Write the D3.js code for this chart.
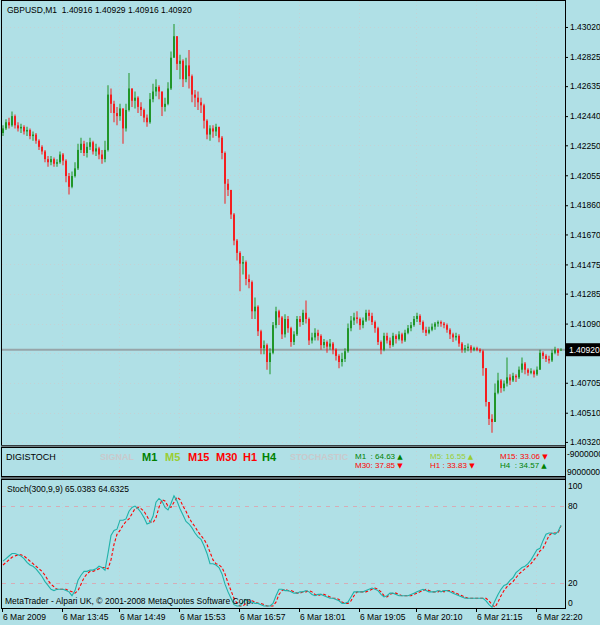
<!DOCTYPE html>
<html>
<head>
<meta charset="utf-8">
<script src="https://cdn.jsdelivr.net/npm/d3@7"></script>
<style>
  html, body { margin: 0; padding: 0; background: #b0e0e6; }
  svg { display: block; font-family: "Liberation Sans", Arial, sans-serif; }
  .pre { white-space: pre; }
</style>
</head>
<body>
<div id="chart"></div>
<script>

// Chart values
let symbol = "GBPUSD,M1";
let lastQuote = [1.40916, 1.40929, 1.40916, 1.40920];   // open, high, low, close

// candles: [open, high, low, close]
let candles = [
  [1.4233,1.4238,1.4231,1.4236],[1.4236,1.4242,1.4235,1.4240],[1.4240,1.4243,1.4236,1.4238],[1.4238,1.4247,1.4237,1.4244],
  [1.4244,1.4245,1.4236,1.4238],[1.4238,1.4240,1.4234,1.4236],[1.4236,1.4239,1.4233,1.4237],[1.4237,1.4238,1.4232,1.4234],
  [1.4234,1.4237,1.4231,1.4235],[1.4235,1.4236,1.4229,1.4231],[1.4231,1.4234,1.4228,1.4232],[1.4232,1.4233,1.4226,1.4228],
  [1.4228,1.4229,1.4222,1.4224],[1.4224,1.4225,1.4219,1.4221],[1.4221,1.4222,1.4214,1.4216],[1.4216,1.4218,1.4211,1.4214],
  [1.4214,1.4218,1.4212,1.4216],[1.4216,1.4217,1.4211,1.4213],[1.4213,1.4216,1.4211,1.4214],[1.4214,1.4221,1.4213,1.4219],
  [1.4219,1.4220,1.4212,1.4215],[1.4215,1.4216,1.4201,1.4205],[1.4205,1.4207,1.4193,1.4198],[1.4198,1.4208,1.4197,1.4205],
  [1.4205,1.4214,1.4204,1.4210],[1.4210,1.4226,1.4209,1.4222],[1.4222,1.4230,1.4220,1.4226],[1.4226,1.4228,1.4218,1.4220],
  [1.4220,1.4227,1.4217,1.4224],[1.4224,1.4230,1.4222,1.4227],[1.4227,1.4228,1.4219,1.4221],[1.4221,1.4226,1.4218,1.4223],
  [1.4223,1.4224,1.4216,1.4219],[1.4219,1.4222,1.4213,1.4216],[1.4216,1.4228,1.4214,1.4222],[1.4222,1.4264,1.4221,1.4258],
  [1.4258,1.4262,1.4246,1.4252],[1.4252,1.4254,1.4240,1.4246],[1.4246,1.4250,1.4238,1.4244],[1.4244,1.4252,1.4241,1.4249],
  [1.4249,1.4249,1.4226,1.4236],[1.4236,1.4252,1.4234,1.4248],[1.4248,1.4272,1.4247,1.4262],[1.4262,1.4262,1.4250,1.4254],
  [1.4254,1.4260,1.4249,1.4256],[1.4256,1.4257,1.4246,1.4250],[1.4250,1.4253,1.4244,1.4248],[1.4248,1.4249,1.4240,1.4243],
  [1.4243,1.4245,1.4237,1.4240],[1.4240,1.4259,1.4239,1.4255],[1.4255,1.4265,1.4253,1.4260],[1.4260,1.4268,1.4257,1.4263],
  [1.4263,1.4264,1.4255,1.4260],[1.4260,1.4260,1.4244,1.4250],[1.4250,1.4256,1.4247,1.4252],[1.4252,1.4266,1.4251,1.4262],
  [1.4262,1.4286,1.4261,1.4282],[1.4282,1.4304,1.4282,1.4296],[1.4296,1.4296,1.4274,1.4278],[1.4278,1.4284,1.4268,1.4280],
  [1.4280,1.4281,1.4263,1.4268],[1.4268,1.4282,1.4266,1.4277],[1.4277,1.4287,1.4262,1.4270],[1.4270,1.4271,1.4253,1.4258],
  [1.4258,1.4261,1.4250,1.4256],[1.4256,1.4260,1.4248,1.4253],[1.4253,1.4256,1.4246,1.4251],[1.4251,1.4252,1.4236,1.4241],
  [1.4241,1.4242,1.4229,1.4232],[1.4232,1.4238,1.4228,1.4236],[1.4236,1.4238,1.4230,1.4234],[1.4234,1.4239,1.4231,1.4237],
  [1.4237,1.4237,1.4227,1.4230],[1.4230,1.4231,1.4216,1.4220],[1.4220,1.4221,1.4187,1.4200],[1.4200,1.4203,1.4192,1.4196],
  [1.4196,1.4196,1.4177,1.4180],[1.4180,1.4181,1.4160,1.4163],[1.4163,1.4164,1.4150,1.4155],[1.4155,1.4156,1.4130,1.4148],
  [1.4148,1.4153,1.4141,1.4149],[1.4149,1.4150,1.4134,1.4138],[1.4138,1.4141,1.4132,1.4136],[1.4136,1.4137,1.4112,1.4117],
  [1.4117,1.4126,1.4112,1.4120],[1.4120,1.4121,1.4101,1.4104],[1.4104,1.4105,1.4089,1.4093],[1.4093,1.4098,1.4089,1.4095],
  [1.4095,1.4096,1.4079,1.4084],[1.4084,1.4093,1.4076,1.4090],[1.4090,1.4110,1.4089,1.4108],[1.4108,1.4120,1.4106,1.4117],
  [1.4117,1.4118,1.4108,1.4113],[1.4113,1.4114,1.4099,1.4102],[1.4102,1.4115,1.4100,1.4112],[1.4112,1.4114,1.4103,1.4106],
  [1.4106,1.4107,1.4094,1.4097],[1.4097,1.4104,1.4095,1.4102],[1.4102,1.4114,1.4101,1.4112],[1.4112,1.4114,1.4107,1.4110],
  [1.4110,1.4118,1.4108,1.4116],[1.4116,1.4124,1.4109,1.4112],[1.4112,1.4113,1.4095,1.4098],[1.4098,1.4103,1.4096,1.4100],
  [1.4100,1.4106,1.4098,1.4103],[1.4103,1.4105,1.4098,1.4101],[1.4101,1.4102,1.4092,1.4095],[1.4095,1.4099,1.4093,1.4097],
  [1.4097,1.4098,1.4090,1.4094],[1.4094,1.4099,1.4092,1.4096],[1.4096,1.4097,1.4089,1.4092],[1.4092,1.4093,1.4085,1.4088],
  [1.4088,1.4089,1.4080,1.4084],[1.4084,1.4090,1.4081,1.4086],[1.4086,1.4093,1.4084,1.4091],[1.4091,1.4109,1.4090,1.4106],
  [1.4106,1.4114,1.4104,1.4111],[1.4111,1.4116,1.4108,1.4113],[1.4113,1.4117,1.4109,1.4112],[1.4112,1.4113,1.4105,1.4108],
  [1.4108,1.4113,1.4106,1.4111],[1.4111,1.4118,1.4110,1.4116],[1.4116,1.4118,1.4111,1.4114],[1.4114,1.4116,1.4108,1.4110],
  [1.4110,1.4111,1.4103,1.4106],[1.4106,1.4107,1.4095,1.4097],[1.4097,1.4098,1.4089,1.4092],[1.4092,1.4103,1.4091,1.4101],
  [1.4101,1.4103,1.4096,1.4098],[1.4098,1.4100,1.4093,1.4095],[1.4095,1.4103,1.4094,1.4101],[1.4101,1.4102,1.4096,1.4099],
  [1.4099,1.4104,1.4098,1.4102],[1.4102,1.4103,1.4096,1.4098],[1.4098,1.4105,1.4097,1.4103],[1.4103,1.4108,1.4102,1.4106],
  [1.4106,1.4110,1.4104,1.4108],[1.4108,1.4114,1.4107,1.4112],[1.4112,1.4116,1.4110,1.4114],[1.4114,1.4115,1.4108,1.4110],
  [1.4110,1.4111,1.4103,1.4105],[1.4105,1.4107,1.4101,1.4103],[1.4103,1.4107,1.4102,1.4105],[1.4105,1.4109,1.4104,1.4107],
  [1.4107,1.4110,1.4105,1.4109],[1.4109,1.4111,1.4107,1.4110],[1.4110,1.4111,1.4107,1.4109],[1.4109,1.4110,1.4106,1.4108],
  [1.4108,1.4109,1.4103,1.4105],[1.4105,1.4106,1.4099,1.4102],[1.4102,1.4103,1.4097,1.4100],[1.4100,1.4103,1.4098,1.4101],
  [1.4101,1.4102,1.4094,1.4096],[1.4096,1.4097,1.4090,1.4092],[1.4092,1.4095,1.4090,1.4093],[1.4093,1.4096,1.4091,1.4094],
  [1.4094,1.4095,1.4090,1.4092],[1.4092,1.4094,1.4091,1.4093],[1.4093,1.4094,1.4091,1.4092],[1.4092,1.4093,1.4090,1.4091],
  [1.4091,1.4092,1.4075,1.4080],[1.4080,1.4080,1.4055,1.4058],[1.4058,1.4058,1.4043,1.4047],[1.4047,1.4050,1.4038,1.4045],
  [1.4045,1.4070,1.4045,1.4064],[1.4064,1.4077,1.4063,1.4072],[1.4072,1.4073,1.4064,1.4067],[1.4067,1.4072,1.4065,1.4070],
  [1.4070,1.4087,1.4068,1.4074],[1.4074,1.4076,1.4069,1.4072],[1.4072,1.4077,1.4071,1.4075],[1.4075,1.4076,1.4071,1.4074],
  [1.4074,1.4081,1.4073,1.4079],[1.4079,1.4087,1.4077,1.4083],[1.4083,1.4084,1.4076,1.4079],[1.4079,1.4080,1.4075,1.4077],
  [1.4077,1.4080,1.4076,1.4078],[1.4078,1.4079,1.4074,1.4076],[1.4076,1.4081,1.4075,1.4079],[1.4079,1.4092,1.4079,1.4090],
  [1.4090,1.4091,1.4086,1.4088],[1.4088,1.4089,1.4084,1.4086],[1.4086,1.4088,1.4083,1.4085],[1.4085,1.4092,1.4084,1.4090],
  [1.4090,1.4094,1.4089,1.4092],[1.4092,1.4093,1.4088,1.4090],[1.40916,1.40929,1.40916,1.40920]
];

let priceTicks = [1.43020, 1.42825, 1.42635, 1.42440, 1.42250, 1.42055, 1.41860, 1.41670,
                  1.41475, 1.41285, 1.41090, 1.40900, 1.40705, 1.40510, 1.40320];
let priceDomain = [1.40300, 1.43189];

// time labels and the bar each one sits on
let timeLabels = ["6 Mar 2009", "6 Mar 13:45", "6 Mar 14:49", "6 Mar 15:53", "6 Mar 16:57",
                  "6 Mar 18:01", "6 Mar 19:05", "6 Mar 20:10", "6 Mar 21:15", "6 Mar 22:20"];
let timeBars = [0, 20, 39, 59, 79, 99, 119, 138, 158, 178];

// Stochastic(300,9,9), one value per bar
let stochMain = [
  37,39,41,43,43,42,41,39,36,34, 33,31,28,25,21,18,15,14,15,15,
  15,14,13,10,14,22,26,29,29,30, 30,31,33,32,30,43,57,61,62,69,
  69,70,76,79,80,78,75,71,66,67, 72,83,86,84,79,77,82,88,84,78,
  73,68,66,63,59,56,54,49,43,35, 35,34,32,27,19,13,8,3,2,2,
  5,7,5,5,4,4,3,2,2,2, 4,10,15,15,14,14,13,12,12,13,
  13,14,13,11,10,11,11,10,9,8, 8,7,6,4,4,5,9,13,13,13,
  13,14,15,16,15,14,11,9,10,12, 12,11,10,10,10,10,11,12,13,14,
  15,14,13,13,13,14,13,14,14,13, 12,11,10,9,8,8,8,8,8,8,
  8,6,3,1,6,11,15,18,19,22, 24,28,30,32,33,35,38,42,46,47,
  53,58,59,59,58,60,65.0383
];
let stochSignal = [
  34,36,38,40,41,42,42,41,39,37, 35,33,31,29,26,22,19,17,15,15,
  15,15,14,13,12,14,19,24,27,29, 29,30,31,32,32,31,38,50,58,61,
  65,68,70,74,78,79,78,76,72,68, 67,71,79,85,84,80,79,83,87,85,
  80,76,71,67,64,60,57,54,50,44, 38,35,34,32,27,20,14,8,4,2,
  2,4,6,6,5,4,4,3,2,2, 2,5,11,14,15,14,14,13,12,12,
  13,13,14,13,11,10,11,11,10,9, 8,8,7,5,4,4,6,10,13,13,
  13,13,14,15,16,15,13,10,9,11, 12,12,11,10,10,10,10,11,12,13,
  14,15,14,13,13,13,14,13,14,14, 13,12,11,10,9,8,8,8,8,8,
  8,8,6,3,1,5,10,14,17,19, 21,24,27,29,31,33,35,38,41,45,
  47,52,57,59,59,59,64.6325
];
let stochLevels = [20, 80];
let stochTicks = [100, 80, 20, 0];

// DIGISTOCH panel
let tfNames = ["M1", "M5", "M15", "M30", "H1", "H4"];
let tfValues = [64.63, 16.55, 33.06, 37.85, 33.83, 34.57];
let tfUp = [true, true, false, false, false, true];
let digiScale = ["-9000000", "9000000"];

// ---------------- layout ----------------
let svgWidth = 600, svgHeight = 625;
let plotLeft = 2, plotRight = 565;
let mainTop = 1, mainBottom = 445;
let digiTop = 447, digiBottom = 476;
let stochTop = 479, stochBottom = 608;

let bg = '#b0e0e6';
let bullColor = '#0b8a0b', bearColor = '#ff0000';
let tfColors = ['#008000', '#9acd32', '#ff0000', '#ff0000', '#ff0000', '#008000'];
let fnt = 8.5;

let svg = d3.select('#chart')
            .append('svg')
            .attr('width', svgWidth)
            .attr('height', svgHeight);

svg.append('rect').attr('width', svgWidth).attr('height', svgHeight).attr('fill', bg);

let defs = svg.append('defs');
defs.append('clipPath').attr('id', 'mainClip')
    .append('rect').attr('x', plotLeft).attr('y', mainTop)
    .attr('width', plotRight - plotLeft).attr('height', mainBottom - mainTop);
defs.append('clipPath').attr('id', 'stochClip')
    .append('rect').attr('x', plotLeft).attr('y', stochTop)
    .attr('width', plotRight - plotLeft).attr('height', stochBottom - stochTop);

// Scales
let xScale = d3.scaleBand()
               .domain(d3.range(candles.length))
               .range([plotLeft, plotLeft + 3 * candles.length]);
let yScale = d3.scaleLinear().domain(priceDomain).range([mainBottom, mainTop]);
let sScale = d3.scaleLinear().domain([0, 100]).range([stochBottom + 0.5, stochTop + 1.5]);

// dotted grid
let gridGrp = svg.append('g').attr('stroke', '#c3d2d5').attr('stroke-dasharray', '1,3');
gridGrp.selectAll('line.hg').data(priceTicks).enter().append('line')
    .attr('x1', plotLeft).attr('x2', plotRight)
    .attr('y1', d => Math.round(yScale(d)) + 0.5).attr('y2', d => Math.round(yScale(d)) + 0.5);
[[mainTop, mainBottom], [digiTop, digiBottom], [stochTop, stochBottom]].forEach(p => {
    gridGrp.selectAll(null).data(timeBars.slice(1)).enter().append('line')
        .attr('x1', d => xScale(d) + 0.5).attr('x2', d => xScale(d) + 0.5)
        .attr('y1', p[0]).attr('y2', p[1]);
});

// current price line
let lastY = yScale(lastQuote[3]);
svg.append('line')
    .attr('x1', plotLeft).attr('x2', plotRight)
    .attr('y1', lastY).attr('y2', lastY)
    .attr('stroke', '#97a5a9').attr('stroke-width', 2);

// candles: thin 1-minute bars, wick plus a narrow body
let candleGrp = svg.append('g').attr('clip-path', 'url(#mainClip)');
candleGrp.selectAll('line').data(candles).enter().append('line')
    .attr('x1', (d, i) => xScale(i) + 1).attr('x2', (d, i) => xScale(i) + 1)
    .attr('y1', d => yScale(d[1])).attr('y2', d => yScale(d[2]))
    .attr('stroke', d => d[3] >= d[0] ? bullColor : bearColor)
    .attr('stroke-opacity', 0.55)
    .attr('stroke-width', 1.6);
candleGrp.selectAll('rect').data(candles).enter().append('rect')
    .attr('x', (d, i) => xScale(i) + 0.25).attr('width', 1.5)
    .attr('y', d => yScale(Math.max(d[0], d[3])))
    .attr('height', d => Math.max(1, Math.abs(yScale(d[0]) - yScale(d[3]))))
    .attr('fill', d => d[3] >= d[0] ? bullColor : bearColor);

// price axis
let yAxis = d3.axisRight(yScale)
              .tickValues(priceTicks)
              .tickFormat(d3.format('.5f'))
              .tickSizeInner(3).tickSizeOuter(0).tickPadding(2);
let yAxisGrp = svg.append('g')
    .attr('transform', `translate(${plotRight}, 0)`)
    .call(yAxis);
yAxisGrp.attr('font-size', fnt).attr('font-family', null).attr('color', '#000');
yAxisGrp.select('.domain').remove();

// last price box
svg.append('rect').attr('x', plotRight + 1).attr('y', lastY - 6.5)
    .attr('width', 34).attr('height', 13).attr('fill', '#000');
svg.append('text').attr('x', plotRight + 4).attr('y', lastY + 3)
    .attr('font-size', fnt).attr('fill', '#fff').text(lastQuote[3].toFixed(5));

// title
svg.append('text').attr('class', 'pre').attr('x', 7).attr('y', 13).attr('font-size', fnt)
    .text(symbol + '  ' + lastQuote.map(v => v.toFixed(5)).join(' '));

// ---------------- DIGISTOCH panel ----------------
svg.append('text').attr('x', 6).attr('y', 460).attr('font-size', 9).text('DIGISTOCH');
svg.append('text').attr('x', 100).attr('y', 460).attr('font-size', 9)
    .attr('font-weight', 'bold').attr('fill', '#c9c9cc').text('SIGNAL');
svg.append('text').attr('x', 290).attr('y', 460).attr('font-size', 9)
    .attr('font-weight', 'bold').attr('fill', '#c9c9cc').text('STOCHASTIC');

let tfLabelX = [142, 165, 188, 216, 243, 262];
svg.selectAll('text.tf').data(tfNames).enter().append('text')
    .attr('x', (d, i) => tfLabelX[i]).attr('y', 461)
    .attr('font-size', 11).attr('font-weight', 'bold')
    .attr('fill', (d, i) => tfColors[i]).text(d => d);

let tfPad = ['  ', '', '', '', ' ', '  '];
let tfColX = [355, 430, 500], tfRowY = [458.5, 467.5];
let tfVal = svg.selectAll('text.tfv').data(tfNames).enter().append('text')
    .attr('class', 'pre')
    .attr('x', (d, i) => tfColX[i % 3]).attr('y', (d, i) => tfRowY[Math.floor(i / 3)])
    .attr('font-size', 8).attr('fill', (d, i) => tfColors[i]);
tfVal.append('tspan').text((d, i) => `${d}${tfPad[i]}: ${tfValues[i].toFixed(2)} `);
tfVal.append('tspan').attr('font-size', 7).attr('font-family', 'DejaVu Sans')
    .text((d, i) => tfUp[i] ? '\u25B2' : '\u25BC');

svg.selectAll('text.ds').data(digiScale).enter().append('text')
    .attr('x', plotRight + 2).attr('y', (d, i) => i === 0 ? 457 : 475)
    .attr('font-size', fnt).text(d => d);

// ---------------- Stochastic panel ----------------
let stochGrp = svg.append('g').attr('clip-path', 'url(#stochClip)');
stochGrp.selectAll('line.lvl').data(stochLevels).enter().append('line')
    .attr('x1', plotLeft).attr('x2', plotRight)
    .attr('y1', d => Math.round(sScale(d)) + 0.5).attr('y2', d => Math.round(sScale(d)) + 0.5)
    .attr('stroke', '#d6acb6').attr('stroke-dasharray', '4,5');

let stochLine = d3.line().x((d, i) => xScale(i) + 1).y(d => sScale(d));
stochGrp.append('path').datum(stochSignal)
    .attr('d', stochLine).attr('fill', 'none')
    .attr('stroke', '#ff0000').attr('stroke-width', 1.1).attr('stroke-dasharray', '3,2');
stochGrp.append('path').datum(stochMain)
    .attr('d', stochLine).attr('fill', 'none')
    .attr('stroke', '#20b2aa').attr('stroke-width', 1.1);

svg.append('text').attr('x', 7).attr('y', 491.5).attr('font-size', fnt)
    .text(`Stoch(300,9,9) ${stochMain[stochMain.length - 1].toFixed(4)} ${stochSignal[stochSignal.length - 1].toFixed(4)}`);
svg.append('text').attr('x', 5).attr('y', 604).attr('font-size', fnt)
    .text('MetaTrader - Alpari UK, \u00A9 2001-2008 MetaQuotes Software Corp.');

svg.selectAll('text.st').data(stochTicks).enter().append('text')
    .attr('x', plotRight + 3)
    .attr('y', d => d === 100 ? sScale(d) + 8.5 : d === 0 ? sScale(d) - 2.5 : sScale(d) + 3)
    .attr('font-size', fnt).text(d => d);

// ---------------- frames ----------------
let frame = svg.append('g').attr('fill', 'none').attr('stroke', '#000');
frame.append('rect').attr('x', plotLeft - 0.5).attr('y', mainTop - 0.5)
    .attr('width', plotRight - plotLeft + 1).attr('height', mainBottom - mainTop + 1);
frame.append('rect').attr('x', plotLeft - 0.5).attr('y', digiTop + 0.5)
    .attr('width', plotRight - plotLeft + 1).attr('height', digiBottom - digiTop);
frame.append('rect').attr('x', plotLeft - 0.5).attr('y', stochTop + 0.5)
    .attr('width', plotRight - plotLeft + 1).attr('height', stochBottom - stochTop);
svg.append('rect').attr('x', plotLeft - 1).attr('y', mainBottom + 0.5)
    .attr('width', plotRight - plotLeft + 2).attr('height', 1.5).attr('fill', '#6e7d81');
svg.append('rect').attr('x', plotLeft - 1).attr('y', digiBottom + 1)
    .attr('width', plotRight - plotLeft + 2).attr('height', 2).attr('fill', '#5e6b6f');
svg.append('line').attr('x1', plotRight + 0.5).attr('x2', plotRight + 0.5)
    .attr('y1', 0).attr('y2', stochBottom + 1).attr('stroke', '#000');

// time axis
let tAxis = svg.append('g').attr('font-size', fnt);
tAxis.selectAll('line').data(timeBars).enter().append('line')
    .attr('x1', d => xScale(d) + 0.5).attr('x2', d => xScale(d) + 0.5)
    .attr('y1', stochBottom + 1).attr('y2', stochBottom + 4).attr('stroke', '#000');
tAxis.selectAll('text').data(timeLabels).enter().append('text')
    .attr('x', (d, i) => xScale(timeBars[i]) + 1).attr('y', 620).text(d => d);

</script>
</body>
</html>
